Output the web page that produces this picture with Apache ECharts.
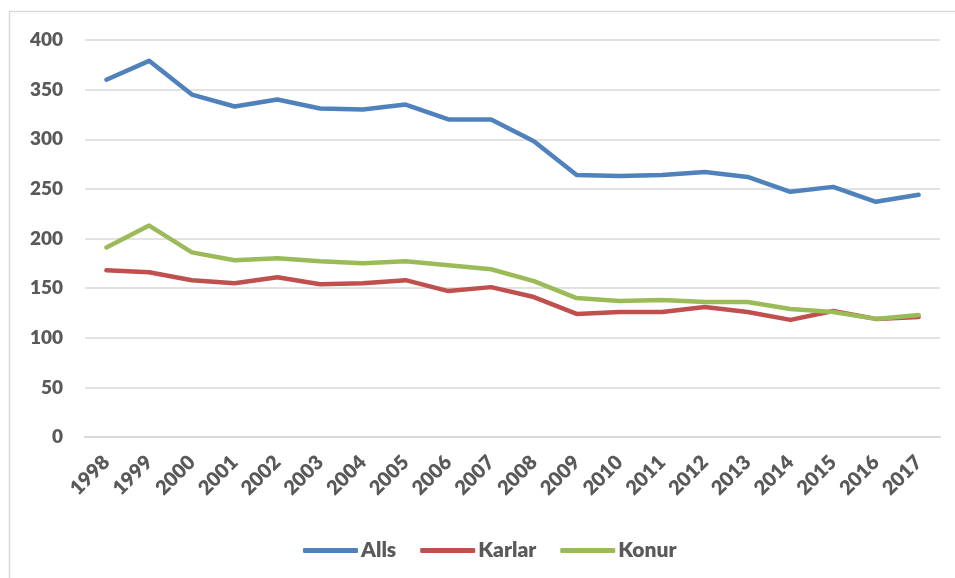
<!DOCTYPE html>
<html>
<head>
<meta charset="utf-8">
<script src="https://cdn.jsdelivr.net/npm/echarts@6/dist/echarts.min.js"></script>
<style>
  html, body { margin: 0; padding: 0; background: #fff; }
  #chart { width: 955px; height: 578px; }
</style>
</head>
<body>
<div id="chart"></div>
<script>
// gögn
const years = ['1998', '1999', '2000', '2001', '2002', '2003', '2004', '2005', '2006', '2007',
  '2008', '2009', '2010', '2011', '2012', '2013', '2014', '2015', '2016', '2017']
const alls = [360, 379, 345, 333, 340, 331, 330, 335, 320, 320, 298, 264, 263, 264, 267, 262, 247, 252, 237, 244]
const karlar = [168, 166, 158, 155, 161, 154, 155, 158, 147, 151, 141, 124, 126, 126, 131, 126, 118, 127, 119, 121]
const konur = [191, 213, 186, 178, 180, 177, 175, 177, 173, 169, 157, 140, 137, 138, 136, 136, 129, 126, 119, 123]

const font = 'Lato, "Open Sans", sans-serif'
const textColor = '#595959'

const chart = echarts.init(document.getElementById('chart'))

function line(name, data, color) {
  return {
    name: name,
    type: 'line',
    data: data,
    symbol: 'none',
    lineStyle: { color: color, width: 4.5, cap: 'round', join: 'round' },
    itemStyle: { color: color },
    animation: false
  }
}

const option = {
  backgroundColor: '#fff',
  graphic: [{
    type: 'rect',
    shape: { x: 9.5, y: 11.5, width: 1000, height: 700 },
    style: { fill: 'none', stroke: '#d9d9d9', lineWidth: 1.5 },
    silent: true
  }],
  grid: { left: 85, right: 15, top: 40, bottom: 141, containLabel: false },
  legend: {
    top: 535,
    left: 298,
    itemWidth: 55,
    itemHeight: 5,
    itemGap: 24,
    icon: 'roundRect',
    textStyle: { fontFamily: font, fontSize: 21, fontWeight: 800, color: textColor, padding: [0, 0, 0, -2] },
    data: ['Alls', 'Karlar', 'Konur']
  },
  xAxis: {
    type: 'category',
    data: years,
    boundaryGap: true,
    axisLine: { lineStyle: { color: '#d9d9d9', width: 2 } },
    axisTick: { show: false },
    axisLabel: {
      rotate: 45,
      interval: 0,
      margin: 22,
      fontFamily: font,
      fontSize: 20,
      fontWeight: 800,
      color: textColor
    }
  },
  yAxis: {
    type: 'value',
    min: 0,
    max: 400,
    interval: 50,
    axisLine: { show: false },
    axisTick: { show: false },
    splitLine: { lineStyle: { color: '#d9d9d9', width: 1.5 } },
    axisLabel: {
      margin: 22,
      fontFamily: font,
      fontSize: 19,
      fontWeight: 800,
      color: textColor
    }
  },
  series: [
    line('Alls', alls, '#4f81bd'),
    line('Karlar', karlar, '#c0504d'),
    line('Konur', konur, '#9bbb59')
  ]
}

chart.setOption(option)
</script>
</body>
</html>
